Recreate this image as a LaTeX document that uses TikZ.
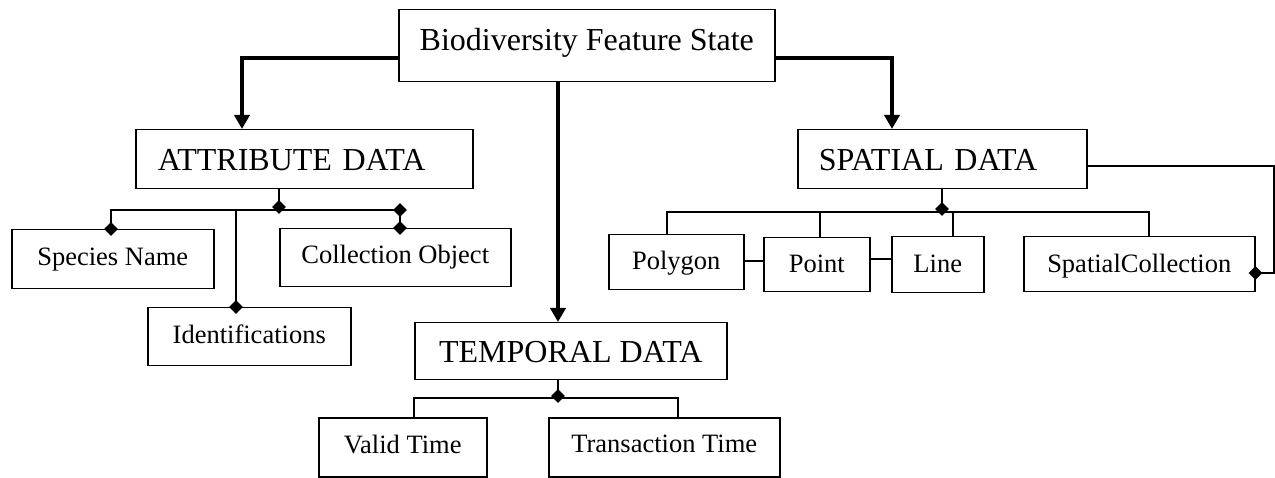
\documentclass[tikz,border=0pt]{standalone}
\usepackage{fontspec}
\setmainfont{Liberation Serif}
\usetikzlibrary{arrows.meta,shapes.geometric}
\tikzset{
  boxnode/.style={draw, line width=1.5pt, inner sep=0pt, anchor=north west},
  bigtext/.style={font=\fontsize{32}{38}\selectfont},
  smalltext/.style={font=\fontsize{26.5}{32}\selectfont},
  thickarrow/.style={line width=3.5pt, -{Triangle[width=15pt,length=14pt]}},
  thinline/.style={line width=1.5pt},
  dia/.style={diamond, fill=black, inner sep=0pt, minimum size=14pt}
}
\begin{document}
\begin{tikzpicture}[x=1pt,y=-1pt]
\useasboundingbox (0,0) rectangle (1275,478);

% main boxes
\node[boxnode, bigtext, minimum width=376pt, text height=41pt, text depth=31pt] (top) at (398,9) {Biodiversity Feature State};
\node[boxnode, bigtext, text width=293pt, inner xsep=22pt, align=left, text height=41pt, text depth=18pt] (attr) at (135,129) {ATTRIBUTE DATA};
\node[boxnode, bigtext, text width=247pt, inner xsep=21pt, align=left, text height=41pt, text depth=18pt] (spat) at (797,129) {SPATIAL DATA};
\node[boxnode, bigtext, minimum width=312pt, text height=40pt, text depth=17pt] (temp) at (414,322) {TEMPORAL DATA};

% attribute children
\node[boxnode, smalltext, minimum width=202pt, text height=36pt, text depth=23pt] (species) at (11,229) {Species Name};
\node[boxnode, smalltext, minimum width=203pt, text height=36pt, text depth=22pt] (ident) at (147,307) {Identifications};
\node[boxnode, smalltext, minimum width=231pt, text height=35pt, text depth=23pt] (coll) at (279,228) {Collection Object};

% temporal children
\node[boxnode, smalltext, minimum width=168pt, text height=36pt, text depth=23pt] (valid) at (318,417) {Valid Time};
\node[boxnode, smalltext, minimum width=231pt, text height=35pt, text depth=24pt] (trans) at (548,417) {Transaction Time};

% spatial children
\node[boxnode, smalltext, minimum width=135pt, text height=35pt, text depth=20pt] (polygon) at (608,234) {Polygon};
\node[boxnode, smalltext, minimum width=106pt, text height=35pt, text depth=19pt] (point) at (763,237) {Point};
\node[boxnode, smalltext, minimum width=92pt, text height=36pt, text depth=20pt] (line) at (891,236) {Line};
\node[boxnode, smalltext, minimum width=231pt, text height=36pt, text depth=19pt] (scoll) at (1023,236) {SpatialCollection};

% thick arrows from the root
\draw[thickarrow] (top.west |- 0,58) -| (attr.north -| 242,0);
\draw[thickarrow] (top.south -| 558,0) -- (temp.north -| 558,0);
\draw[thickarrow] (top.east |- 0,58) -| (spat.north -| 892,0);

% attribute composition
\coordinate (abar) at (279,210);
\coordinate (abarL) at (111,210);
\coordinate (abarI) at (236,210);
\coordinate (abarR) at (400,210);
\draw[thinline] (attr.south -| abar) -- (abar);
\draw[thinline] (species.north -| abarL) -- (abarL) -- (abarR) -- (coll.north -| abarR);
\draw[thinline] (abarI) -- (ident.north -| abarI);
\node[dia] (da) at (279,207) {};
\node[dia] (dsp) at (species.north -| abarL) {};
\node[dia] (did) at (ident.north -| abarI) {};
\node[dia] (dcr) at (abarR) {};
\node[dia] (dco) at (coll.north -| abarR) {};

% temporal composition
\coordinate (tbar) at (558,398);
\coordinate (tbarL) at (414,398);
\coordinate (tbarR) at (678,398);
\draw[thinline] (temp.south -| tbar) -- (tbar);
\draw[thinline] (valid.north -| tbarL) -- (tbarL) -- (tbarR) -- (trans.north -| tbarR);
\node[dia] (dt) at (558,396) {};

% spatial composition
\coordinate (sbar) at (942,212);
\coordinate (sbarP) at (667,212);
\coordinate (sbarT) at (820,212);
\coordinate (sbarL) at (953,212);
\coordinate (sbarC) at (1149,212);
\draw[thinline] (spat.south -| sbar) -- (sbar);
\draw[thinline] (polygon.north -| sbarP) -- (sbarP) -- (sbarC) -- (scoll.north -| sbarC);
\draw[thinline] (sbarT) -- (point.north -| sbarT);
\draw[thinline] (sbarL) -- (line.north -| sbarL);
\node[dia] (ds) at (942,209) {};

% links between geometry boxes
\draw[thinline] (polygon.east |- 0,261) -- (point.west |- 0,261);
\draw[thinline] (point.east |- 0,259) -- (line.west |- 0,259);

% spatial collection back-link
\coordinate (rtop) at (1274,166);
\coordinate (rbot) at (1274,273);
\draw[thinline] (spat.east |- rtop) -- (rtop) -- (rbot) -- (scoll.east |- rbot);
\node[dia] (dsc) at (scoll.east |- rbot) {};
\end{tikzpicture}
\end{document}
